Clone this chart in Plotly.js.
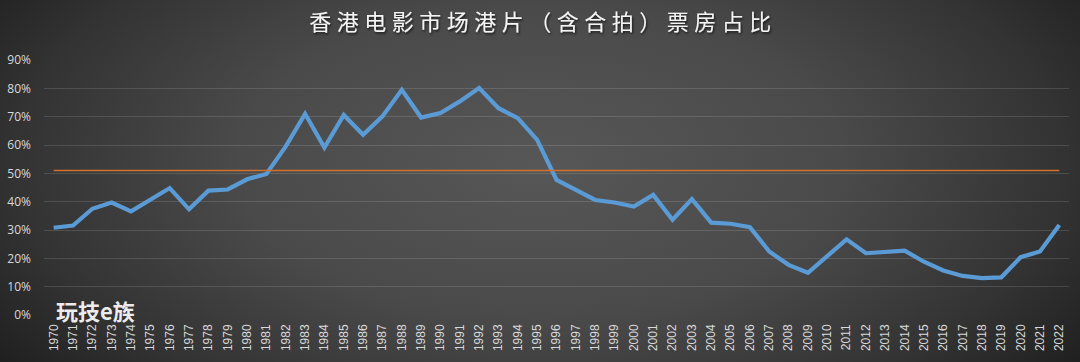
<!DOCTYPE html>
<html>
<head>
<meta charset="utf-8">
<script src="https://cdn.plot.ly/plotly-3.0.1.min.js"></script>
<style>
  html, body { margin: 0; padding: 0; }
  body { width: 1080px; height: 362px; overflow: hidden;
    background: radial-gradient(ellipse 62% 95% at 50% 45%, #575757 0%, #4a4a4a 45%, #333333 78%, #1f1f1f 100%); }
  #chart { width: 1080px; height: 362px; }
</style>
</head>
<body>
<div id="chart"></div>
<script>
const years = ["1970","1971","1972","1973","1974","1975","1976","1977","1978","1979",
  "1980","1981","1982","1983","1984","1985","1986","1987","1988","1989",
  "1990","1991","1992","1993","1994","1995","1996","1997","1998","1999",
  "2000","2001","2002","2003","2004","2005","2006","2007","2008","2009",
  "2010","2011","2012","2013","2014","2015","2016","2017","2018","2019",
  "2020","2021","2022"];
const hkShare = [30.8, 31.6, 37.5, 39.7, 36.6, 40.8, 44.8, 37.3, 43.9, 44.3,
  47.9, 49.8, 59.5, 71.0, 59.1, 70.6, 63.6, 70.1, 79.5, 69.7,
  71.3, 75.4, 80.1, 73.0, 69.5, 61.8, 47.7, 44.2, 40.6, 39.7,
  38.3, 42.4, 33.6, 40.9, 32.6, 32.2, 31.0, 22.4, 17.7, 14.9,
  20.8, 26.7, 21.8, 22.2, 22.7, 18.8, 15.7, 13.8, 13.0, 13.3,
  20.4, 22.4, 31.8];
const refLevel = [51, 51];
const refYears = ["1970", "2022"];
const yTickVals = [0, 10, 20, 30, 40, 50, 60, 70, 80, 90];
const yTickText = ["0%","10%","20%","30%","40%","50%","60%","70%","80%","90%"];
const titleText = "香港电影市场港片（含合拍）票房占比";
const watermark = "玩技e族";

const traces = [
  { x: years, y: hkShare, type: "scatter", mode: "lines",
    line: { color: "#5B9BD5", width: 4.2, shape: "linear" }, showlegend: false },
  { x: refYears, y: refLevel, type: "scatter", mode: "lines",
    line: { color: "#D2712F", width: 1.5 }, hoverinfo: "skip", showlegend: false }
];

const layout = {
  width: 1080, height: 362,
  paper_bgcolor: "rgba(0,0,0,0)", plot_bgcolor: "rgba(0,0,0,0)",
  margin: { l: 44, r: 11, t: 60, b: 47 },
  title: { text: titleText, x: 0.5, xanchor: "center", xref: "container",
    y: 0.938, yref: "container", yanchor: "middle",
    font: { family: "Noto Sans CJK SC", size: 22, weight: 400, color: "#f4f4f4" } },
  xaxis: { type: "category", categoryorder: "array", categoryarray: years,
    tickvals: years, ticktext: years, tickangle: -90,
    showgrid: false, zeroline: false, showline: false, ticks: "",
    ticklabelstandoff: 6,
    tickfont: { family: "Liberation Sans", size: 12, color: "#d9d9d9" },
    range: [-0.5, years.length - 0.5] },
  yaxis: { range: [0, 90], tickvals: yTickVals, ticktext: yTickText,
    showgrid: true, gridcolor: "rgba(255,255,255,0.13)", gridwidth: 1,
    zeroline: false, showline: false, ticks: "", ticklabelstandoff: 12,
    tickfont: { family: "Open Sans", size: 12, color: "#d9d9d9" } },
  annotations: [
    { text: "<b>" + watermark + "</b>", xref: "paper", yref: "paper",
      x: 0.010, y: 0.018, xanchor: "left", yanchor: "middle", showarrow: false,
      font: { family: "Noto Sans CJK SC", size: 22, color: "#ececec" } }
  ]
};

Plotly.newPlot("chart", traces, layout, { displayModeBar: false, staticPlot: true }).then(function () {
  const ns = "http://www.w3.org/2000/svg";
  const defs = document.createElementNS(ns, "defs");
  const filter = document.createElementNS(ns, "filter");
  filter.setAttribute("id", "tshadow");
  filter.setAttribute("x", "-10%"); filter.setAttribute("y", "-30%");
  filter.setAttribute("width", "120%"); filter.setAttribute("height", "160%");
  const ds = document.createElementNS(ns, "feDropShadow");
  ds.setAttribute("dx", "1"); ds.setAttribute("dy", "1.5");
  ds.setAttribute("stdDeviation", "1"); ds.setAttribute("flood-color", "#000");
  ds.setAttribute("flood-opacity", "0.7");
  filter.appendChild(ds); defs.appendChild(filter);
  document.querySelectorAll("#chart svg").forEach(function (s) { s.insertBefore(defs.cloneNode(true), s.firstChild); });
  document.querySelectorAll("#chart .gtitle").forEach(function (t) {
    t.setAttribute("letter-spacing", "5.5px");
    t.setAttribute("filter", "url(#tshadow)");
    t.setAttribute("dx", "3");
  });
});
</script>
</body>
</html>
